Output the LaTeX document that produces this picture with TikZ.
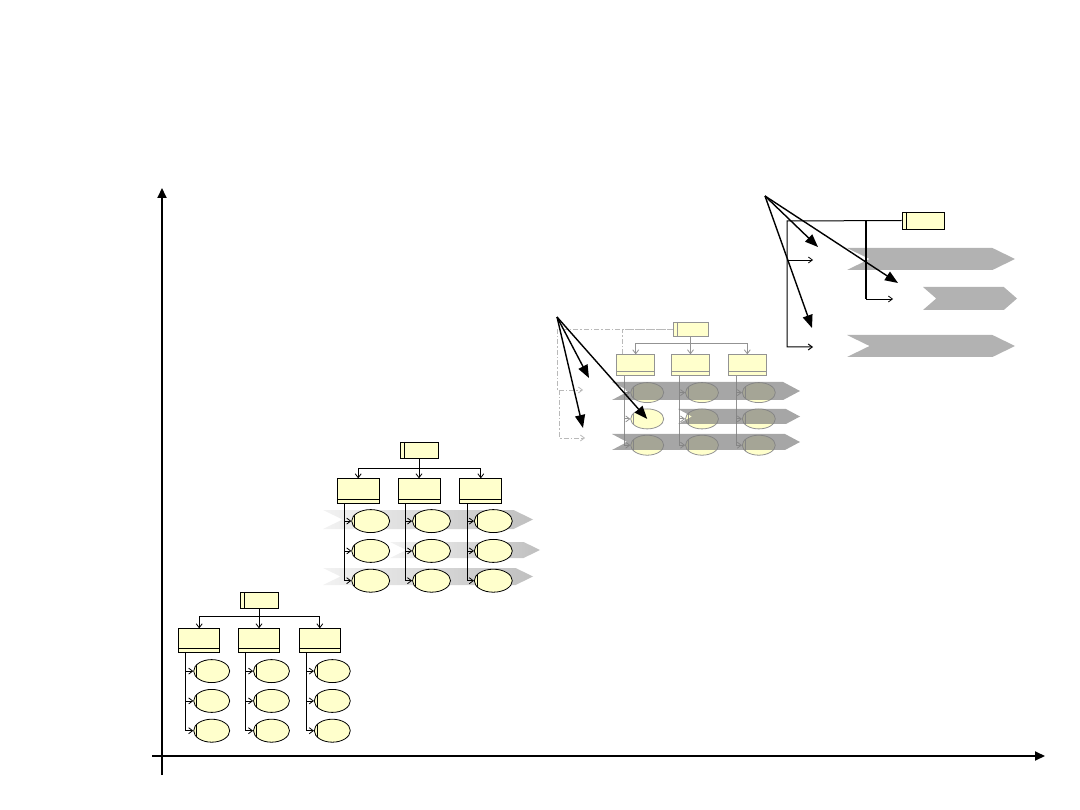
\documentclass[tikz,border=0pt]{standalone}
\usepackage{tikz}
\usetikzlibrary{shapes,arrows.meta,positioning,calc}
\usepackage{xcolor}
\definecolor{boxyellow}{RGB}{255,255,204}

\begin{document}
\begin{tikzpicture}[
  x=1pt, y=-1pt,
  tbox/.style={rectangle, draw, fill=boxyellow, line width=0.8pt, inner sep=0pt,
    path picture={\draw[line width=0.8pt] ([xshift=4pt]path picture bounding box.north west) -- ([xshift=4pt]path picture bounding box.south west);}},
  cbox/.style={rectangle, draw, fill=boxyellow, line width=0.8pt, inner sep=0pt,
    path picture={\draw[line width=0.8pt] ([yshift=4pt]path picture bounding box.south west) -- ([yshift=4pt]path picture bounding box.south east);}},
  ell/.style={ellipse, draw, fill=boxyellow, line width=0.8pt, inner sep=0pt,
    path picture={\draw[line width=0.8pt] ([xshift=3pt]path picture bounding box.north west) -- ([xshift=3pt]path picture bounding box.south west);}},
  faded/.style={color=gray!85, fill=boxyellow},
  fadedline/.style={color=gray!85},
  link/.style={-{Straight Barb[length=4pt,width=6pt]}, line width=0.8pt},
  dline/.style={gray!55, dash pattern=on 5pt off 2pt on 1.5pt off 2pt},
  band/.style={signal, signal from=west, signal to=east, inner sep=0pt, draw=none},
  fan/.style={-{Triangle[length=13pt,width=10pt]}, line width=1.4pt},
  axis/.style={-{Triangle[length=10pt,width=9pt]}, line width=2pt}
]
  \path[use as bounding box] (0,0) rectangle (1080,810);
  % Axes
  \coordinate (ybot) at (162,775);
  \coordinate (ytop) at (162,188);
  \coordinate (xl) at (152,756);
  \coordinate (xr) at (1045,756);
  \draw[axis] (ybot) -- (ytop);
  \draw[axis] (xl) -- (xr);

  % Chart 1: plain tree
  \node[tbox, minimum width=38pt, minimum height=16pt] (t1) at (259,600) {};
  \node[cbox, minimum width=41pt, minimum height=24pt, below=20pt of t1] (c12) {};
  \node[cbox, minimum width=41pt, minimum height=24pt, left=18pt of c12] (c11) {};
  \node[cbox, minimum width=41pt, minimum height=24pt, right=19pt of c12] (c13) {};
  \node[ell, minimum width=36pt, minimum height=23pt, below=6pt of c11, xshift=12.5pt] (e111) {};
  \node[ell, minimum width=36pt, minimum height=23pt, below=6pt of e111] (e112) {};
  \node[ell, minimum width=36pt, minimum height=23pt, below=6pt of e112] (e113) {};
  \node[ell, minimum width=36pt, minimum height=23pt, below=6pt of c12, xshift=12.5pt] (e121) {};
  \node[ell, minimum width=36pt, minimum height=23pt, below=6pt of e121] (e122) {};
  \node[ell, minimum width=36pt, minimum height=23pt, below=6pt of e122] (e123) {};
  \node[ell, minimum width=36pt, minimum height=23pt, below=6pt of c13, xshift=12.5pt] (e131) {};
  \node[ell, minimum width=36pt, minimum height=23pt, below=6pt of e131] (e132) {};
  \node[ell, minimum width=36pt, minimum height=23pt, below=6pt of e132] (e133) {};
  \draw[link] (t1.south) -- ++(0,8) -| (c11.north);
  \draw[link] (t1.south) -- (c12.north);
  \draw[link] (t1.south) -- ++(0,8) -| (c13.north);
  \draw[link] ([xshift=7pt]c11.south west) |- (e111.west);
  \draw[link] ([xshift=7pt]c11.south west) |- (e112.west);
  \draw[link] ([xshift=7pt]c11.south west) |- (e113.west);
  \draw[link] ([xshift=7pt]c12.south west) |- (e121.west);
  \draw[link] ([xshift=7pt]c12.south west) |- (e122.west);
  \draw[link] ([xshift=7pt]c12.south west) |- (e123.west);
  \draw[link] ([xshift=7pt]c13.south west) |- (e131.west);
  \draw[link] ([xshift=7pt]c13.south west) |- (e132.west);
  \draw[link] ([xshift=7pt]c13.south west) |- (e133.west);

  % Chart 2: tree with shaded bands behind
  \node[band, minimum width=210pt, minimum height=19pt, signal pointer angle=52, left color=gray!10, right color=gray!50] (b21) at (428,519.5) {};
  \node[band, minimum width=150pt, minimum height=16pt, signal pointer angle=52, left color=gray!10, right color=gray!50] (b22) at (465,550) {};
  \node[band, minimum width=210pt, minimum height=17pt, signal pointer angle=52, left color=gray!10, right color=gray!50] (b23) at (428,576.5) {};
  \node[tbox, minimum width=38pt, minimum height=16pt] (t2) at (419,450) {};
  \node[cbox, minimum width=42pt, minimum height=25pt, below=20pt of t2] (c22) {};
  \node[cbox, minimum width=42pt, minimum height=25pt, left=18pt of c22] (c21) {};
  \node[cbox, minimum width=42pt, minimum height=25pt, right=19pt of c22] (c23) {};
  \node[ell, minimum width=38pt, minimum height=23pt, below=5pt of c21, xshift=12.5pt] (e211) {};
  \node[ell, minimum width=38pt, minimum height=23pt, below=6pt of e211] (e212) {};
  \node[ell, minimum width=38pt, minimum height=23pt, below=6pt of e212] (e213) {};
  \node[ell, minimum width=38pt, minimum height=23pt, below=5pt of c22, xshift=12.5pt] (e221) {};
  \node[ell, minimum width=38pt, minimum height=23pt, below=6pt of e221] (e222) {};
  \node[ell, minimum width=38pt, minimum height=23pt, below=6pt of e222] (e223) {};
  \node[ell, minimum width=38pt, minimum height=23pt, below=5pt of c23, xshift=12.5pt] (e231) {};
  \node[ell, minimum width=38pt, minimum height=23pt, below=6pt of e231] (e232) {};
  \node[ell, minimum width=38pt, minimum height=23pt, below=6pt of e232] (e233) {};
  \draw[link] (t2.south) -- ++(0,10) -| (c21.north);
  \draw[link] (t2.south) -- (c22.north);
  \draw[link] (t2.south) -- ++(0,10) -| (c23.north);
  \draw[link] ([xshift=8pt]c21.south west) |- (e211.west);
  \draw[link] ([xshift=8pt]c21.south west) |- (e212.west);
  \draw[link] ([xshift=8pt]c21.south west) |- (e213.west);
  \draw[link] ([xshift=8pt]c22.south west) |- (e221.west);
  \draw[link] ([xshift=8pt]c22.south west) |- (e222.west);
  \draw[link] ([xshift=8pt]c22.south west) |- (e223.west);
  \draw[link] ([xshift=8pt]c23.south west) |- (e231.west);
  \draw[link] ([xshift=8pt]c23.south west) |- (e232.west);
  \draw[link] ([xshift=8pt]c23.south west) |- (e233.west);

  % Chart 3: faded tree, bands laid over it
  \node[tbox, faded, minimum width=35pt, minimum height=14pt] (t3) at (690.5,329) {};
  \node[cbox, faded, minimum width=38pt, minimum height=21pt, below=18pt of t3] (c32) {};
  \node[cbox, faded, minimum width=38pt, minimum height=21pt, left=16pt of c32] (c31) {};
  \node[cbox, faded, minimum width=38pt, minimum height=21pt, right=18pt of c32] (c33) {};
  \coordinate (dl) at (557,329);
  \coordinate (dm) at (559,390);
  \coordinate (d1) at (583,390);
  \coordinate (d2) at (585,438);
  \draw[link, dline] (t3.west) -- (dl) |- (d1);
  \draw[link, dline] (dm) |- (d2);
  \draw[dline, line width=0.8pt] ([xshift=6pt]c31.north west) |- (t3.west);
  \draw[link, fadedline] (t3.south) -- ++(0,7) -| (c31.north);
  \draw[link, fadedline] (t3.south) -- (c32.north);
  \draw[link, fadedline] (t3.south) -- ++(0,7) -| (c33.north);
  \node[ell, faded, minimum width=33pt, minimum height=20pt, below=6pt of c31, xshift=11.5pt] (e311) {};
  \node[ell, faded, minimum width=33pt, minimum height=20pt, below=5.5pt of e311] (e312) {};
  \node[ell, faded, minimum width=33pt, minimum height=20pt, below=5.5pt of e312] (e313) {};
  \node[ell, faded, minimum width=33pt, minimum height=20pt, below=6pt of c32, xshift=11.5pt] (e321) {};
  \node[ell, faded, minimum width=33pt, minimum height=20pt, below=5.5pt of e321] (e322) {};
  \node[ell, faded, minimum width=33pt, minimum height=20pt, below=5.5pt of e322] (e323) {};
  \node[ell, faded, minimum width=33pt, minimum height=20pt, below=6pt of c33, xshift=11.5pt] (e331) {};
  \node[ell, faded, minimum width=33pt, minimum height=20pt, below=5.5pt of e331] (e332) {};
  \node[ell, faded, minimum width=33pt, minimum height=20pt, below=5.5pt of e332] (e333) {};
  \draw[link, fadedline] ([xshift=8pt]c31.south west) |- (e311.west);
  \draw[link, fadedline] ([xshift=8pt]c31.south west) |- (e312.west);
  \draw[link, fadedline] ([xshift=8pt]c31.south west) |- (e313.west);
  \draw[link, fadedline] ([xshift=8pt]c32.south west) |- (e321.west);
  \draw[link, fadedline] ([xshift=8pt]c32.south west) |- (e322.west);
  \draw[link, fadedline] ([xshift=8pt]c32.south west) |- (e323.west);
  \draw[link, fadedline] ([xshift=8pt]c33.south west) |- (e331.west);
  \draw[link, fadedline] ([xshift=8pt]c33.south west) |- (e332.west);
  \draw[link, fadedline] ([xshift=8pt]c33.south west) |- (e333.west);
  \node[band, minimum width=188pt, minimum height=18pt, signal pointer angle=56, fill=gray, fill opacity=0.7] (b31) at (706,391) {};
  \node[band, minimum width=122pt, minimum height=15pt, signal pointer angle=56, fill=gray, fill opacity=0.7] (b32) at (739,416.5) {};
  \node[band, minimum width=188pt, minimum height=16pt, signal pointer angle=56, fill=gray, fill opacity=0.7] (b33) at (706,442) {};
  \coordinate (f3) at (557,317);
  \coordinate (f31) at (589,378);
  \coordinate (f32) at (583,428);
  \draw[fan] (f3) -- (f31);
  \draw[fan] (f3) -- (f32);
  \draw[fan] (f3) -- (e312.center);

  % Chart 4: process view with chevrons
  \node[band, minimum width=168pt, minimum height=22pt, signal pointer angle=52, fill=gray!60] (h41) at (931,259) {};
  \node[band, minimum width=94pt, minimum height=23pt, signal pointer angle=82, fill=gray!60] (h42) at (970,298.5) {};
  \node[band, minimum width=168pt, minimum height=22pt, signal pointer angle=52, fill=gray!60] (h43) at (931,346) {};
  \node[tbox, minimum width=42pt, minimum height=17pt] (t4) at (923,220.5) {};
  \coordinate (l4) at (787,221);
  \coordinate (m4) at (866,221);
  \coordinate (a41) at (813,260);
  \coordinate (a42) at (813,347);
  \coordinate (a43) at (893,299);
  \draw[link, line width=1pt] (t4.west) -- (l4) |- (a42);
  \draw[link] (l4 |- a41) -- (a41);
  \draw[line width=2.5pt] (m4) -- (m4 |- a43);
  \draw[link] (m4 |- a43) -- (a43);
  \coordinate (f4) at (765,196);
  \coordinate (f41) at (818,247);
  \coordinate (f42) at (898,283);
  \coordinate (f43) at (812,328);
  \draw[fan] (f4) -- (f41);
  \draw[fan] (f4) -- (f42);
  \draw[fan] (f4) -- (f43);
\end{tikzpicture}
\end{document}
